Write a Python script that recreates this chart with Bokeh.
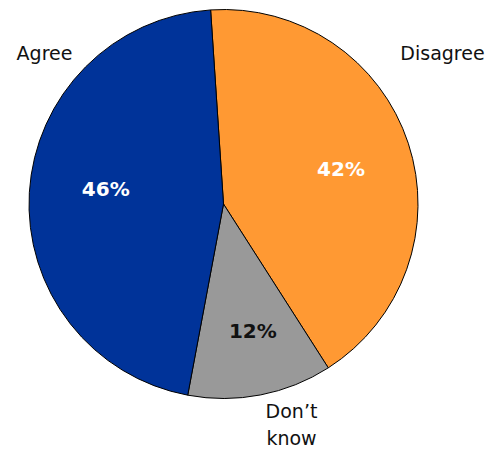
import math
from bokeh.plotting import figure
from bokeh.models import Range1d, ColumnDataSource
from bokeh.core.properties import value
from bokeh.embed import file_html
from bokeh.resources import INLINE

categories = ["Disagree", "Don\u2019t\nknow", "Agree"]
values = [42, 12, 46]
pct_labels = ["42%", "12%", "46%"]
colors = ["#FF9933", "#999999", "#003399"]
pct_colors = ["white", "#111111", "white"]

W, H = 490, 449
p = figure(width=W, height=H, output_backend="svg", toolbar_location=None,
           x_range=Range1d(0, W), y_range=Range1d(-H, 0),
           min_border=0, outline_line_color=None)
p.axis.visible = False
p.grid.visible = False
p.background_fill_color = "white"
p.border_fill_color = "white"

cx, cy, r = 223, -203.5, 194.5
start = math.radians(93.8)
total = sum(values)
starts, ends = [], []
a = start
for v in values:
    b = a - v / total * 2 * math.pi
    starts.append(b)
    ends.append(a)
    a = b

src = ColumnDataSource(dict(start=starts, end=ends, color=colors))
p.wedge(x=cx, y=cy, radius=r, start_angle="start", end_angle="end", source=src,
        fill_color="color", line_color="black", line_width=1)

# percentage labels
pct_angle = [16.4, -77.0, 172.9]
pct_rad = [0.63, 0.67, 0.61]
px = [cx + r * f * math.cos(math.radians(t)) for t, f in zip(pct_angle, pct_rad)]
py = [cy + r * f * math.sin(math.radians(t)) for t, f in zip(pct_angle, pct_rad)]
p.text(x=px, y=py, text=pct_labels, text_color=pct_colors,
       text_font=value("DejaVu Sans"), text_font_style="bold",
       text_font_size="20px", text_align="center", text_baseline="middle")

# category labels
lab_x = [442, 291, 44]
lab_y = [-52, -424, -52]
p.text(x=lab_x, y=lab_y, text=categories, text_color="#111111",
       text_font=value("DejaVu Sans"), text_font_size="19px",
       text_align="center", text_baseline="middle", text_line_height=1.2)

open("out.html", "w").write(file_html(p, INLINE))
